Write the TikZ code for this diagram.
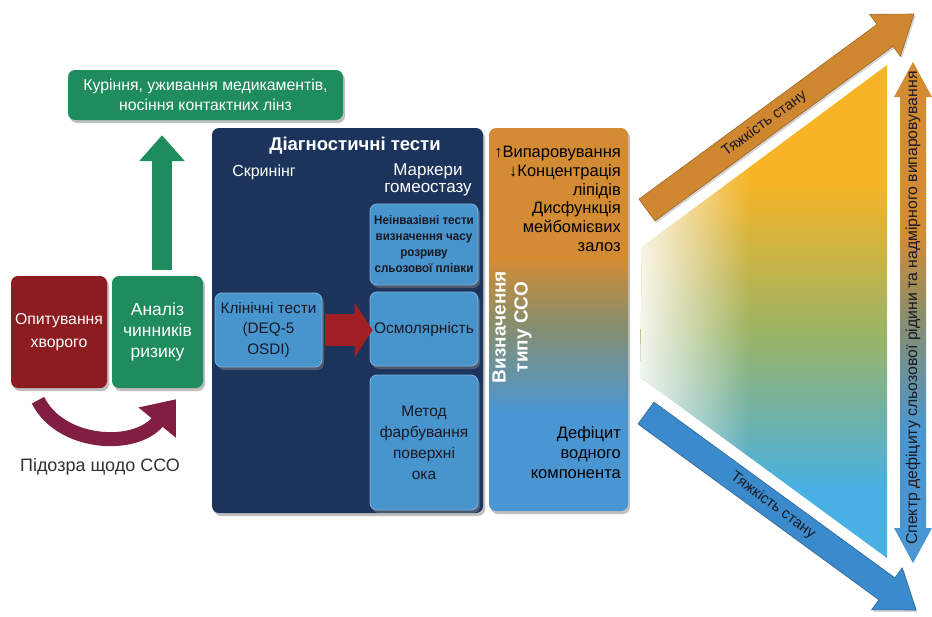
\documentclass[tikz,border=0pt]{standalone}
\usepackage{fontspec}
\setmainfont{Liberation Sans}
\newfontfamily\narrowfont[FakeStretch=0.93]{Liberation Sans}
\usetikzlibrary{calc,arrows.meta,shadows,fadings}
\definecolor{navy}{RGB}{28,52,92}
\definecolor{lblue}{RGB}{72,148,205}
\definecolor{dred}{RGB}{140,28,32}
\definecolor{grn}{RGB}{30,140,92}
\definecolor{maroonc}{RGB}{130,30,65}
\definecolor{redarr}{RGB}{160,32,36}
\definecolor{corange}{RGB}{212,140,52}
\definecolor{colive}{RGB}{140,142,104}
\definecolor{cblue}{RGB}{74,150,210}
\definecolor{tyellow}{RGB}{246,180,38}
\definecolor{tgreen}{RGB}{156,180,100}
\definecolor{tblue}{RGB}{72,176,226}
\definecolor{oarr}{RGB}{208,136,48}
\definecolor{barr}{RGB}{58,138,204}
\definecolor{tdark}{RGB}{25,25,35}
\definecolor{tgray}{RGB}{50,50,50}
\pgfdeclareverticalshading{ccoshade}{100bp}{color(0bp)=(cblue); color(38bp)=(cblue); color(50bp)=(colive); color(58bp)=(corange); color(100bp)=(corange)}
\pgfdeclareverticalshading{trishade}{100bp}{color(0bp)=(tblue); color(32bp)=(tblue); color(48bp)=(tgreen); color(63bp)=(tyellow); color(100bp)=(tyellow)}
\tikzfading[name=whitefade, left color=transparent!10, right color=transparent!100]
\newcommand{\myfs}[2]{\fontsize{#1}{#2}\selectfont}
\newcommand{\mybarrow}[6]{%
  \coordinate (hb) at ($(#3)!#5!(#2)$);
  \path[#1] ($(#2)!#4!90:(#3)$) -- ($(hb)!#4!90:(#3)$) -- ($(hb)!#6!90:(#3)$) -- (#3) -- ($(hb)!#6!-90:(#3)$) -- ($(hb)!#4!-90:(#3)$) -- ($(#2)!#4!-90:(#3)$) -- cycle;}
\begin{document}
\begin{tikzpicture}[x=1pt,y=-1pt,
  box/.style={rounded corners=7pt, align=center, inner sep=2pt,
    drop shadow={shadow xshift=2pt, shadow yshift=-3pt, opacity=0.5}},
  lbox/.style={box, fill=lblue, draw=lblue!70!white, line width=0.8pt, text=tdark},
  shd/.style={drop shadow={shadow xshift=1.5pt, shadow yshift=-2pt, opacity=0.35}}]
\useasboundingbox (0,0) rectangle (932,616);

% left part
\node[box, fill=grn, text=white, minimum width=275pt, minimum height=50pt, font=\myfs{15.8}{20}] (risk) at (205.5,95) {Куріння, уживання медикаментів,\\носіння контактних лінз};
\node[box, fill=dred, text=white, minimum width=96pt, minimum height=112pt, font=\myfs{15.8}{23}] (opyt) at (59,332) {Опитування\\хворого};
\node[box, fill=grn, text=white, minimum width=91pt, minimum height=112pt, font=\myfs{17.5}{21}] (anal) at (157.5,332) {Аналіз\\чинників\\ризику};
\draw[grn, line width=20pt, -{Triangle[length=26pt, width=44pt]}, shorten <=6pt, shorten >=15pt]
  ([xshift=4.5pt]anal.north) -- ([xshift=4.5pt]anal.north |- risk.south);
\draw[maroonc, line width=14pt, -{Triangle[length=30pt, width=46pt]}]
  ($(opyt.south)+(-21,12)$) .. controls (60,445) and (135,450) .. ($(anal.south)+(18.5,11)$);
\node[font=\myfs{18}{20}, text=tgray] (susp) at (100,467) {Підозра щодо ССО};

% diagnostic tests
\node[box, fill=navy, minimum width=271pt, minimum height=385pt] (diag) at (347.5,320.5) {};
\node[font=\bfseries\myfs{18.5}{20}, text=white] (dtitle) at (355,146) {Діагностичні тести};
\node[font=\myfs{16}{17}, text=white] (scr) at (264,172) {Скринінг};
\node[font=\myfs{17}{17.5}, text=white, align=center] (mark) at (428,180) {Маркери\\гомеостазу};
\node[lbox, minimum width=107pt, minimum height=74pt, font=\myfs{15.3}{20.5}] (clin) at (268.5,330) {Клінічні тести\\(DEQ-5\\OSDI)};
\node[lbox, minimum width=108pt, minimum height=81pt, font=\narrowfont\bfseries\myfs{12.5}{16}] (nibut) at (424,244.5) {Неінвазівні тести\\визначення часу\\розриву\\сльозової плівки};
\node[lbox, minimum width=108pt, minimum height=74pt, font=\myfs{15.5}{18}] (osm) at (424,329) {Осмолярність};
\node[lbox, minimum width=108pt, minimum height=135pt, font=\myfs{15.5}{21}] (stain) at (424,442.5) {Метод\\фарбування\\поверхні\\ока};
\draw[redarr, line width=32pt, -{Triangle[length=18pt, width=54pt]}, shorten <=3pt, shorten >=-3pt]
  (clin.east) -- (clin.east -| osm.west);

% type box
\node[box, shade, shading=ccoshade, minimum width=139pt, minimum height=383pt] (type) at (558.5,319.5) {};
\node[anchor=north east, align=right, font=\myfs{16.5}{18.8}, text=black, inner sep=0pt] (evap) at (621,146) {↑Випаровування\\↓Концентрація\\ліпідів\\Дисфункція\\мейбомієвих\\залоз};
\node[rotate=90, font=\bfseries\myfs{19}{22}, text=white, align=center] (typelbl) at (512,327) {Визначення\\типу ССО};
\node[anchor=north east, align=right, font=\myfs{16.5}{20}, text=black, inner sep=0pt] (aqdef) at (621,426) {Дефіцит\\водного\\компонента};

% spectrum triangle
\coordinate (tl) at (642,247);
\coordinate (tr) at (887,65);
\coordinate (br) at (887,558);
\coordinate (bl) at (640,377);
\shade[shading=trishade] (tl) -- (tr) -- (br) -- (bl) -- cycle;
\begin{scope}
  \clip (tl) -- (tr) -- (br) -- (bl) -- cycle;
  \fill[white, path fading=whitefade] (638,60) rectangle (750,562);
\end{scope}

% severity arrows
\coordinate (oa1) at (647,210);
\coordinate (oa2) at (914,14);
\mybarrow{fill=oarr, draw=oarr!75!black, line width=0.6pt, shd}{oa1}{oa2}{13.5pt}{36pt}{26pt}
\node[rotate=36.3, font=\myfs{15}{16}, text=tdark] (sev1) at ($(oa1)!0.44!(oa2)$) {Тяжкість стану};
\coordinate (ba1) at (646,413);
\coordinate (ba2) at (916,610);
\mybarrow{fill=barr, draw=barr!75!black, line width=0.6pt, shd}{ba1}{ba2}{13.5pt}{36pt}{26pt}
\node[rotate=-36.1, font=\myfs{15}{16}, text=tdark] (sev2) at ($(ba1)!0.47!(ba2)$) {Тяжкість стану};

% spectrum double arrow
\shade[shading=ccoshade] (913,62) -- (932,97) -- (926,97) -- (926,528) -- (932,528) -- (913,563) -- (894,528) -- (900,528) -- (900,97) -- (894,97) -- cycle;
\node[rotate=90, font=\myfs{15.8}{16}, text=tdark] (spec) at (913,308) {Спектр дефіциту сльозової рідини та надмірного випаровування};
\end{tikzpicture}
\end{document}
